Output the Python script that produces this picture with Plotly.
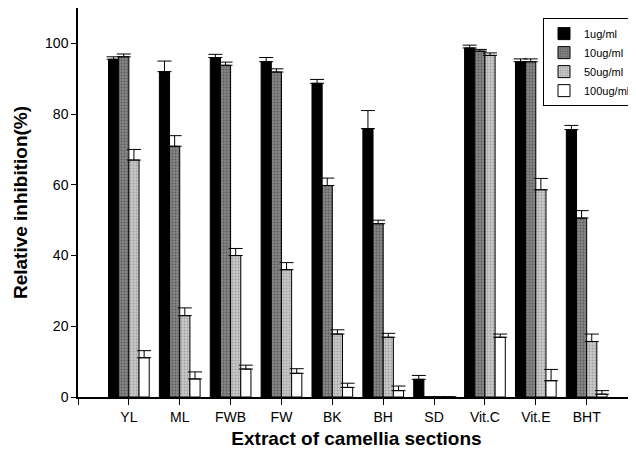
import plotly.graph_objects as go

categories = ["YL", "ML", "FWB", "FW", "BK", "BH", "SD", "Vit.C", "Vit.E", "BHT"]
series_names = ["1ug/ml", "10ug/ml", "50ug/ml", "100ug/ml"]

v_1 = [95.5, 92.0, 96.0, 94.8, 88.7, 75.9, 5.0, 98.7, 94.8, 75.6]
e_1 = [0.7, 3.0, 0.9, 1.2, 1.1, 5.1, 1.1, 0.8, 0.8, 1.2]
v_10 = [96.2, 70.9, 93.8, 91.9, 59.8, 49.0, 0.0, 97.8, 94.8, 50.6]
e_10 = [0.8, 3.0, 0.9, 0.9, 2.1, 1.0, 0.0, 0.5, 0.8, 2.1]
v_50 = [67.0, 23.0, 40.0, 36.0, 17.8, 16.9, 0.0, 96.6, 58.6, 15.7]
e_50 = [3.0, 2.2, 2.0, 2.0, 1.2, 1.1, 0.0, 0.7, 3.2, 2.1]
v_100 = [11.1, 5.1, 7.9, 6.7, 2.7, 1.8, 0.0, 16.9, 4.6, 0.8]
e_100 = [2.0, 2.0, 1.1, 1.3, 1.2, 1.3, 0.0, 0.9, 3.2, 1.0]

values = [v_1, v_10, v_50, v_100]
errors = [e_1, e_10, e_50, e_100]
fills = ["#000000", "#858585", "#c8c8c8", "#ffffff"]
pat_fg = ["#000000", "#333333", "#7a7a7a", "#ffffff"]
pat_shape = ["", ".", ".", ""]

xpos = list(range(1, len(categories) + 1))

fig = go.Figure()
for name, vals, errs, fc, pf, ps in zip(series_names, values, errors, fills, pat_fg, pat_shape):
    fig.add_trace(go.Bar(
        name=name,
        x=xpos,
        y=vals,
        marker=dict(color=fc, line=dict(color="#000000", width=1),
                    pattern=dict(shape=ps, fgcolor=pf, bgcolor=fc, size=3, solidity=0.3)),
        error_y=dict(type="data", array=errs, arrayminus=[0] * len(errs), symmetric=False,
                     color="#000000", thickness=1, width=7),
    ))

# page body has an 8px margin, so the figure is sized/offset to compensate
fig.update_layout(
    width=628, height=446,
    margin=dict(l=70, r=0, t=0, b=57),
    paper_bgcolor="white", plot_bgcolor="white",
    barmode="group", bargap=0.2, bargroupgap=0,
    font=dict(family="Liberation Sans, Arial, sans-serif", color="#000000", size=12),
    legend=dict(x=0.835, y=0.974, xanchor="left", yanchor="top",
                bgcolor="white", bordercolor="#000000", borderwidth=1,
                font=dict(size=11), itemwidth=30, tracegroupgap=0),
    showlegend=True,
)
fig.update_xaxes(
    range=[0, 10.95], tickmode="array", tickvals=[0] + xpos, ticktext=[""] + categories,
    showline=True, linecolor="#000000", linewidth=1.5, ticks="outside", ticklen=6,
    tickcolor="#000000", showgrid=False, zeroline=False,
    tickfont=dict(size=14),
    title=dict(text="<b>Extract of camellia sections</b>", font=dict(size=19), standoff=8),
)
fig.update_yaxes(
    range=[0, 110], tickmode="array", tickvals=[0, 20, 40, 60, 80, 100],
    showline=True, linecolor="#000000", linewidth=1.5, ticks="outside", ticklen=5,
    tickcolor="#000000", showgrid=False, zeroline=False,
    tickfont=dict(size=14),
    title=dict(text="<b>Relative inhibition(%)</b>", font=dict(size=19), standoff=12),
)

fig.write_html("out.html")
